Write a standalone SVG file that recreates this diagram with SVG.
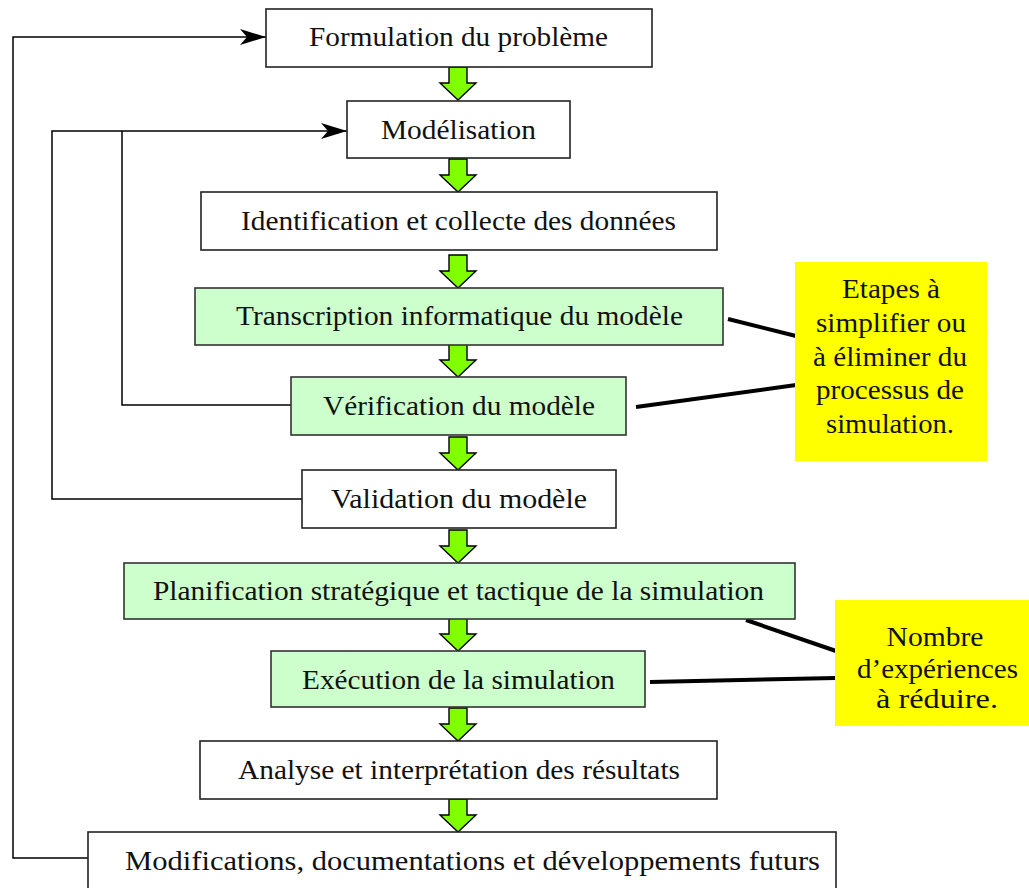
<svg xmlns="http://www.w3.org/2000/svg" width="1029" height="888" viewBox="0 0 1029 888">
  <defs>
    <style>
      .box { fill: #ffffff; stroke: #222222; stroke-width: 1.6; }
      .gbox { fill: #ccffcc; stroke: #333333; stroke-width: 1.6; }
      .note { fill: #ffff00; stroke: none; }
      .lbl { font-family: "Liberation Serif", "Times New Roman", serif; font-size: 27px; fill: #111111; text-anchor: middle; }
      .loop { fill: none; stroke: #000000; stroke-width: 1.5; }
      .link { fill: none; stroke: #000000; stroke-width: 4; stroke-linecap: butt; }
      .flow { fill: #80ff00; stroke: #000000; stroke-width: 1.4; stroke-linejoin: miter; }
    </style>
    <marker id="barb" markerWidth="28" markerHeight="18" refX="26" refY="9" orient="auto" markerUnits="userSpaceOnUse">
      <path d="M26,9 L0,1 L7,9 L0,17 Z" fill="#000000"/>
    </marker>
    <!-- block arrow used between consecutive steps, tip at (0,0) -->
    <path id="down" d="M-9,-33 L9,-33 L9,-17 L18,-17 L0,0 L-18,-17 L-9,-17 Z"/>
  </defs>

  <!-- feedback loops and note links -->
  <g id="connectors">
    <polyline class="loop" points="88,858 13,858 13,37 266,37" marker-end="url(#barb)"/>
    <polyline class="loop" points="302,499 52,499 52,131 347,131" marker-end="url(#barb)"/>
    <polyline class="loop" points="291,405 122,405 122,131"/>
    <line class="link" x1="728" y1="319" x2="796" y2="336"/>
    <line class="link" x1="636" y1="407" x2="796" y2="385"/>
    <line class="link" x1="746" y1="620" x2="836" y2="651"/>
    <line class="link" x1="650" y1="682" x2="836" y2="678"/>
    <use href="#down" class="flow" x="458" y="100"/>
    <use href="#down" class="flow" x="458" y="192"/>
    <use href="#down" class="flow" x="458" y="288"/>
    <use href="#down" class="flow" x="458" y="377"/>
    <use href="#down" class="flow" x="458" y="470"/>
    <use href="#down" class="flow" x="458" y="563"/>
    <use href="#down" class="flow" x="458" y="651"/>
    <use href="#down" class="flow" x="458" y="741"/>
    <use href="#down" class="flow" x="458" y="832"/>
  </g>

  <g id="formulation">
    <rect class="box" x="266" y="9" width="386" height="58"/>
    <text class="lbl" x="458.5" y="46" textLength="299" lengthAdjust="spacingAndGlyphs">Formulation du problème</text>
  </g>
  <g id="modelisation">
    <rect class="box" x="347" y="101" width="223" height="57"/>
    <text class="lbl" x="458.5" y="139" textLength="155" lengthAdjust="spacingAndGlyphs">Modélisation</text>
  </g>
  <g id="identification">
    <rect class="box" x="201" y="192" width="516" height="58"/>
    <text class="lbl" x="458.5" y="230" textLength="435" lengthAdjust="spacingAndGlyphs">Identification et collecte des données</text>
  </g>
  <g id="transcription">
    <rect class="gbox" x="195" y="288" width="528" height="57"/>
    <text class="lbl" x="459.5" y="325" textLength="447" lengthAdjust="spacingAndGlyphs">Transcription informatique du modèle</text>
  </g>
  <g id="verification">
    <rect class="gbox" x="291" y="377" width="335" height="58"/>
    <text class="lbl" x="459" y="415" textLength="272" lengthAdjust="spacingAndGlyphs">Vérification du modèle</text>
  </g>
  <g id="validation">
    <rect class="box" x="302" y="470" width="314" height="58"/>
    <text class="lbl" x="459" y="508" textLength="256" lengthAdjust="spacingAndGlyphs">Validation du modèle</text>
  </g>
  <g id="planification">
    <rect class="gbox" x="124" y="563" width="671" height="56"/>
    <text class="lbl" x="458.5" y="600" textLength="611" lengthAdjust="spacingAndGlyphs">Planification stratégique et tactique de la simulation</text>
  </g>
  <g id="execution">
    <rect class="gbox" x="271" y="651" width="374" height="56"/>
    <text class="lbl" x="458.5" y="689" textLength="313" lengthAdjust="spacingAndGlyphs">Exécution de la simulation</text>
  </g>
  <g id="analyse">
    <rect class="box" x="200" y="741" width="517" height="58"/>
    <text class="lbl" x="459" y="779" textLength="442" lengthAdjust="spacingAndGlyphs">Analyse et interprétation des résultats</text>
  </g>
  <g id="modifications">
    <rect class="box" x="88" y="832" width="748" height="70"/>
    <text class="lbl" x="472.5" y="870" textLength="695" lengthAdjust="spacingAndGlyphs">Modifications, documentations et développements futurs</text>
  </g>

  <g id="note-simplifier">
    <rect class="note" x="795" y="262" width="192" height="199"/>
    <text class="lbl" x="891" y="298" textLength="98" lengthAdjust="spacingAndGlyphs">Etapes à</text>
    <text class="lbl" x="891" y="332" textLength="150" lengthAdjust="spacingAndGlyphs">simplifier ou</text>
    <text class="lbl" x="890" y="366" textLength="154" lengthAdjust="spacingAndGlyphs">à éliminer du</text>
    <text class="lbl" x="890" y="399" textLength="148" lengthAdjust="spacingAndGlyphs">processus de</text>
    <text class="lbl" x="890" y="433" textLength="128" lengthAdjust="spacingAndGlyphs">simulation.</text>
  </g>
  <g id="note-reduire">
    <rect class="note" x="835" y="600" width="194" height="126"/>
    <text class="lbl" x="935" y="646" textLength="97" lengthAdjust="spacingAndGlyphs">Nombre</text>
    <text class="lbl" x="937.5" y="678" textLength="161" lengthAdjust="spacingAndGlyphs">d’expériences</text>
    <text class="lbl" x="937" y="708" textLength="122" lengthAdjust="spacingAndGlyphs">à réduire.</text>
  </g>
</svg>
